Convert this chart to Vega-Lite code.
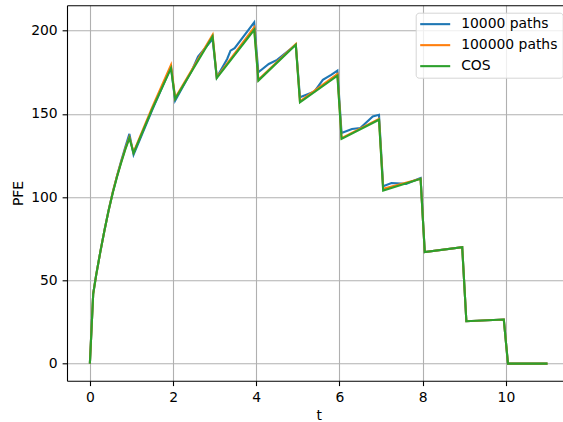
{
  "$schema": "https://vega.github.io/schema/vega-lite/v6.json",
  "width": 496,
  "height": 375.4,
  "autosize": {"type": "none"},
  "padding": {"left": 67, "top": 5.3, "right": 0, "bottom": 41.3},
  "config": {
    "view": {"stroke": null},
    "font": "DejaVu Sans",
    "axis": {
      "domainColor": "black",
      "domainWidth": 1.1,
      "tickColor": "black",
      "tickWidth": 1.1,
      "tickSize": 4.9,
      "labelFont": "DejaVu Sans",
      "labelFontSize": 13.9,
      "labelColor": "black",
      "labelPadding": 4.9,
      "gridColor": "#b0b0b0",
      "gridWidth": 1.1,
      "titleFont": "DejaVu Sans",
      "titleFontSize": 13.9,
      "titleFontWeight": "normal",
      "titleColor": "black"
    }
  },
  "data": {
    "values": [
      {"t": 0, "PFE": 0, "series": "10000 paths"},
      {"t": 0.08, "PFE": 42, "series": "10000 paths"},
      {"t": 0.15, "PFE": 53, "series": "10000 paths"},
      {"t": 0.25, "PFE": 67, "series": "10000 paths"},
      {"t": 0.35, "PFE": 80, "series": "10000 paths"},
      {"t": 0.45, "PFE": 92, "series": "10000 paths"},
      {"t": 0.55, "PFE": 103, "series": "10000 paths"},
      {"t": 0.65, "PFE": 112.5, "series": "10000 paths"},
      {"t": 0.75, "PFE": 121.5, "series": "10000 paths"},
      {"t": 0.85, "PFE": 130, "series": "10000 paths"},
      {"t": 0.95, "PFE": 138, "series": "10000 paths"},
      {"t": 1.05, "PFE": 125.5, "series": "10000 paths"},
      {"t": 1.5, "PFE": 152.5, "series": "10000 paths"},
      {"t": 1.95, "PFE": 178, "series": "10000 paths"},
      {"t": 2.05, "PFE": 158, "series": "10000 paths"},
      {"t": 2.45, "PFE": 176, "series": "10000 paths"},
      {"t": 2.6, "PFE": 184.5, "series": "10000 paths"},
      {"t": 2.95, "PFE": 195, "series": "10000 paths"},
      {"t": 3.05, "PFE": 172, "series": "10000 paths"},
      {"t": 3.3, "PFE": 183, "series": "10000 paths"},
      {"t": 3.38, "PFE": 188, "series": "10000 paths"},
      {"t": 3.48, "PFE": 189.5, "series": "10000 paths"},
      {"t": 3.95, "PFE": 205, "series": "10000 paths"},
      {"t": 4.05, "PFE": 175, "series": "10000 paths"},
      {"t": 4.3, "PFE": 180, "series": "10000 paths"},
      {"t": 4.5, "PFE": 182.5, "series": "10000 paths"},
      {"t": 4.95, "PFE": 191.5, "series": "10000 paths"},
      {"t": 5.05, "PFE": 160, "series": "10000 paths"},
      {"t": 5.25, "PFE": 162, "series": "10000 paths"},
      {"t": 5.4, "PFE": 163.5, "series": "10000 paths"},
      {"t": 5.6, "PFE": 170.5, "series": "10000 paths"},
      {"t": 5.8, "PFE": 173.5, "series": "10000 paths"},
      {"t": 5.95, "PFE": 176, "series": "10000 paths"},
      {"t": 6.05, "PFE": 138.5, "series": "10000 paths"},
      {"t": 6.3, "PFE": 141, "series": "10000 paths"},
      {"t": 6.5, "PFE": 141.5, "series": "10000 paths"},
      {"t": 6.8, "PFE": 148.5, "series": "10000 paths"},
      {"t": 6.95, "PFE": 149.5, "series": "10000 paths"},
      {"t": 7.05, "PFE": 106.5, "series": "10000 paths"},
      {"t": 7.25, "PFE": 108.5, "series": "10000 paths"},
      {"t": 7.6, "PFE": 108, "series": "10000 paths"},
      {"t": 7.95, "PFE": 111.5, "series": "10000 paths"},
      {"t": 8.05, "PFE": 67, "series": "10000 paths"},
      {"t": 8.95, "PFE": 70, "series": "10000 paths"},
      {"t": 9.05, "PFE": 25.5, "series": "10000 paths"},
      {"t": 9.95, "PFE": 26.5, "series": "10000 paths"},
      {"t": 10.05, "PFE": 0, "series": "10000 paths"},
      {"t": 11, "PFE": 0, "series": "10000 paths"},

      {"t": 0, "PFE": 0, "series": "100000 paths"},
      {"t": 0.08, "PFE": 42, "series": "100000 paths"},
      {"t": 0.15, "PFE": 53, "series": "100000 paths"},
      {"t": 0.25, "PFE": 67, "series": "100000 paths"},
      {"t": 0.35, "PFE": 80, "series": "100000 paths"},
      {"t": 0.45, "PFE": 92, "series": "100000 paths"},
      {"t": 0.55, "PFE": 103, "series": "100000 paths"},
      {"t": 0.65, "PFE": 112.5, "series": "100000 paths"},
      {"t": 0.75, "PFE": 121, "series": "100000 paths"},
      {"t": 0.85, "PFE": 129, "series": "100000 paths"},
      {"t": 0.95, "PFE": 136, "series": "100000 paths"},
      {"t": 1.05, "PFE": 127, "series": "100000 paths"},
      {"t": 1.5, "PFE": 154, "series": "100000 paths"},
      {"t": 1.95, "PFE": 179.5, "series": "100000 paths"},
      {"t": 2.05, "PFE": 159.5, "series": "100000 paths"},
      {"t": 2.95, "PFE": 197.5, "series": "100000 paths"},
      {"t": 3.05, "PFE": 172, "series": "100000 paths"},
      {"t": 3.95, "PFE": 202, "series": "100000 paths"},
      {"t": 4.05, "PFE": 170.5, "series": "100000 paths"},
      {"t": 4.95, "PFE": 192, "series": "100000 paths"},
      {"t": 5.05, "PFE": 157.5, "series": "100000 paths"},
      {"t": 5.95, "PFE": 174, "series": "100000 paths"},
      {"t": 6.05, "PFE": 135.5, "series": "100000 paths"},
      {"t": 6.95, "PFE": 147, "series": "100000 paths"},
      {"t": 7.05, "PFE": 105, "series": "100000 paths"},
      {"t": 7.95, "PFE": 111, "series": "100000 paths"},
      {"t": 8.05, "PFE": 67, "series": "100000 paths"},
      {"t": 8.95, "PFE": 70, "series": "100000 paths"},
      {"t": 9.05, "PFE": 25.5, "series": "100000 paths"},
      {"t": 9.95, "PFE": 26.5, "series": "100000 paths"},
      {"t": 10.05, "PFE": 0, "series": "100000 paths"},
      {"t": 11, "PFE": 0, "series": "100000 paths"},

      {"t": 0, "PFE": 0, "series": "COS"},
      {"t": 0.08, "PFE": 42, "series": "COS"},
      {"t": 0.15, "PFE": 53, "series": "COS"},
      {"t": 0.25, "PFE": 67, "series": "COS"},
      {"t": 0.35, "PFE": 80, "series": "COS"},
      {"t": 0.45, "PFE": 92, "series": "COS"},
      {"t": 0.55, "PFE": 102.5, "series": "COS"},
      {"t": 0.65, "PFE": 112, "series": "COS"},
      {"t": 0.75, "PFE": 120.5, "series": "COS"},
      {"t": 0.85, "PFE": 128.5, "series": "COS"},
      {"t": 0.95, "PFE": 135.5, "series": "COS"},
      {"t": 1.05, "PFE": 126.5, "series": "COS"},
      {"t": 1.5, "PFE": 153, "series": "COS"},
      {"t": 1.95, "PFE": 177.5, "series": "COS"},
      {"t": 2.05, "PFE": 159, "series": "COS"},
      {"t": 2.95, "PFE": 196.5, "series": "COS"},
      {"t": 3.05, "PFE": 171.5, "series": "COS"},
      {"t": 3.95, "PFE": 200.5, "series": "COS"},
      {"t": 4.05, "PFE": 170, "series": "COS"},
      {"t": 4.95, "PFE": 191.5, "series": "COS"},
      {"t": 5.05, "PFE": 157, "series": "COS"},
      {"t": 5.95, "PFE": 173, "series": "COS"},
      {"t": 6.05, "PFE": 135, "series": "COS"},
      {"t": 6.95, "PFE": 146.5, "series": "COS"},
      {"t": 7.05, "PFE": 104, "series": "COS"},
      {"t": 7.95, "PFE": 111, "series": "COS"},
      {"t": 8.05, "PFE": 67, "series": "COS"},
      {"t": 8.95, "PFE": 70, "series": "COS"},
      {"t": 9.05, "PFE": 25.5, "series": "COS"},
      {"t": 9.95, "PFE": 26.5, "series": "COS"},
      {"t": 10.05, "PFE": 0, "series": "COS"},
      {"t": 11, "PFE": 0, "series": "COS"}
    ]
  },
  "layer": [
    {
      "mark": {"type": "line", "strokeWidth": 2.1, "clip": true},
      "encoding": {
        "x": {
          "field": "t",
          "type": "quantitative",
          "scale": {"domain": [-0.55, 11.373], "nice": false, "zero": false},
          "axis": {
            "values": [0, 2, 4, 6, 8, 10],
            "title": "t",
            "titleX": 251.6,
            "titlePadding": 4,
            "labelFlush": false
          }
        },
        "y": {
          "field": "PFE",
          "type": "quantitative",
          "scale": {"domain": [-10.25, 215.25], "nice": false, "zero": false},
          "axis": {
            "values": [0, 50, 100, 150, 200],
            "title": "PFE",
            "titlePadding": 5,
            "labelFlush": false
          }
        },
        "color": {
          "field": "series",
          "type": "nominal",
          "scale": {
            "domain": ["10000 paths", "100000 paths", "COS"],
            "range": ["#1f77b4", "#ff7f0e", "#2ca02c"]
          },
          "legend": {
            "orient": "none",
            "legendX": 348.7,
            "legendY": 7.4,
            "title": null,
            "symbolType": "M-3.75,0H3.75",
            "symbolSize": 64,
            "symbolStrokeWidth": 2.1,
            "symbolOffset": 8.05,
            "labelOffset": 19,
            "labelFont": "DejaVu Sans",
            "labelFontSize": 13.9,
            "labelColor": "black",
            "labelLimit": 300,
            "rowPadding": 6,
            "padding": 4.5,
            "fillColor": "rgba(255,255,255,0.8)",
            "strokeColor": "#d6d6d6",
            "cornerRadius": 3
          }
        }
      }
    },
    {
      "mark": {"type": "line", "opacity": 0},
      "encoding": {
        "x": {
          "field": "t",
          "type": "quantitative",
          "axis": {"orient": "top", "labels": false, "ticks": false, "grid": false, "title": null}
        },
        "y": {"field": "PFE", "type": "quantitative"}
      }
    }
  ],
  "resolve": {"axis": {"x": "independent"}}
}
